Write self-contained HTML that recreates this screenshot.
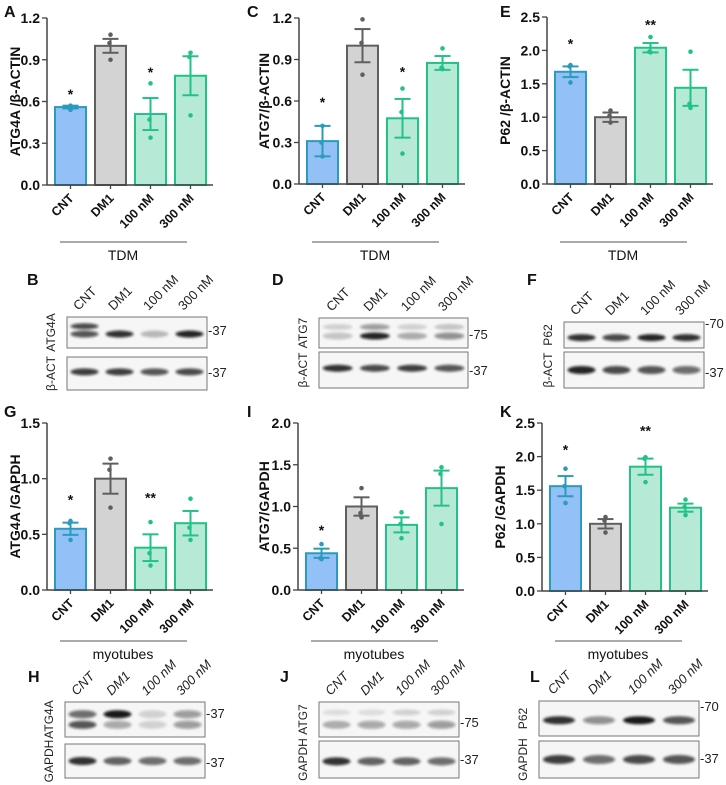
<!DOCTYPE html>
<html><head><meta charset="utf-8"><style>
html,body{margin:0;padding:0;background:#fff;}
svg{display:block;font-family:"Liberation Sans",Arial,sans-serif;}
</style></head><body>
<svg id="fig" width="726" height="785" viewBox="0 0 726 785" xmlns="http://www.w3.org/2000/svg">
<defs><filter id="bl" x="-20%" y="-100%" width="140%" height="300%"><feGaussianBlur stdDeviation="1.3"/></filter></defs>
</svg>
<script>
const categories = ["CNT","DM1","100 nM","300 nM"];
const meansA = [0.56,1.0,0.51,0.785], semA=[0.01,0.05,0.115,0.14], ptsA=[[0.57,0.56,0.54],[1.08,1.02,0.9],[0.73,0.47,0.34],[0.95,0.92,0.50]];
const meansC = [0.31,1.0,0.475,0.875], semC=[0.11,0.12,0.14,0.05], ptsC=[[0.42,0.3,0.2],[1.19,1.02,0.79],[0.69,0.52,0.22],[0.98,0.84,0.83]];
const meansE = [1.68,1.0,2.04,1.44], semE=[0.08,0.07,0.07,0.27], ptsE=[[1.78,1.76,1.52],[1.1,1.02,0.92],[2.2,1.98,1.97],[1.98,1.2,1.14]];
const meansG = [0.55,1.0,0.38,0.6], semG=[0.055,0.135,0.12,0.11], ptsG=[[0.62,0.6,0.45],[1.18,1.08,0.74],[0.61,0.33,0.22],[0.82,0.56,0.45]];
const meansI = [0.44,1.0,0.78,1.22], semI=[0.055,0.11,0.09,0.21], ptsI=[[0.55,0.38,0.37],[1.22,0.92,0.87],[0.93,0.79,0.62],[1.47,1.39,0.79]];
const meansK = [1.56,1.0,1.85,1.24], semK=[0.15,0.07,0.12,0.06], ptsK=[[1.82,1.56,1.31],[1.1,1.05,0.87],[1.99,1.97,1.62],[1.36,1.25,1.13]];
const starsA=["*","","*",""], starsC=["*","","*",""], starsE=["*","","**",""], starsG=["*","","**",""], starsI=["*","","",""], starsK=["*","","**",""];
const starYA=[0.66,0,0.82,0], starYC=[0.6,0,0.82,0], starYE=[2.12,0,2.4,0], starYG=[0.82,0,0.84,0], starYI=[0.73,0,0,0], starYK=[2.12,0,2.4,0];
const ticks12=["0.0","0.3","0.6","0.9","1.2"], ticks15=["0.0","0.5","1.0","1.5"], ticks20=["0.0","0.5","1.0","1.5","2.0"], ticks25=["0.0","0.5","1.0","1.5","2.0","2.5"];

const NS="http://www.w3.org/2000/svg", svg=document.getElementById('fig');
function mk(tag,attrs,parent,text){const e=document.createElementNS(NS,tag);for(const k in attrs)e.setAttribute(k,attrs[k]);if(text!==undefined)e.textContent=text;(parent||svg).appendChild(e);return e;}
const fills=["#93c0f7","#d3d3d3","#b6ead6","#b6ead6"], strokes=["#2a9bbd","#5f5f5f","#22c287","#22c287"];

function chart(id,ax,top,y0,max,ticks,means,sem,pts,stars,starY,ylab,ylx,group,gy){
  const g=mk('g',{});
  
  
  const y=v=>y0-(v/max)*(y0-top);
  const bx=i=>ax+8+i*40;
  ticks.forEach(t=>{const v=parseFloat(t);
    mk('line',{x1:ax-5,x2:ax,y1:y(v),y2:y(v),stroke:'#444','stroke-width':1.3},g);
    const tx=mk('text',{x:ax-7,y:y(v)+5,'text-anchor':'end','font-size':14,'font-weight':'bold',fill:'#111'},g,t);
    
    
  });
  means.forEach((m,i)=>{
    const b=mk('rect',{x:bx(i),y:y(m),width:31,height:y0-y(m),fill:fills[i],stroke:strokes[i],'stroke-width':2},g);
    
    
    const cx=bx(i)+15.5;
    mk('line',{x1:cx,x2:cx,y1:y(m+sem[i]),y2:y(m-sem[i]),stroke:strokes[i],'stroke-width':2},g);
    mk('line',{x1:cx-8,x2:cx+8,y1:y(m+sem[i]),y2:y(m+sem[i]),stroke:strokes[i],'stroke-width':2},g);
    mk('line',{x1:cx-8,x2:cx+8,y1:y(m-sem[i]),y2:y(m-sem[i]),stroke:strokes[i],'stroke-width':2},g);
    pts[i].forEach((p,j)=>{const d=mk('circle',{cx:cx+(j===1?-1:0),cy:y(p),r:2.3,fill:strokes[i]},g);
      
      });
    if(stars[i]){const s=mk('text',{x:cx,y:y(starY[i])+6,'text-anchor':'middle','font-size':14,'font-weight':'bold',fill:'#111'},g,stars[i]);
      
      }
    mk('line',{x1:cx,x2:cx,y1:y0,y2:y0+4,stroke:'#444','stroke-width':1.3},g);
    const lb=mk('text',{x:cx+4,y:y0+14,'text-anchor':'end','font-size':12.5,'font-weight':'bold',fill:'#111',transform:`rotate(-45 ${cx+4} ${y0+14})`},g,categories[i]);
    
    
  });
  mk('line',{x1:ax,x2:ax,y1:top,y2:y0,stroke:'#444','stroke-width':1.5},g);
  mk('line',{x1:ax,x2:ax+166,y1:y0,y2:y0,stroke:'#444','stroke-width':1.5},g);
  const yl=mk('text',{x:ylx,y:(top+y0)/2,'text-anchor':'middle','font-size':14,'font-weight':'bold',fill:'#111',transform:`rotate(-90 ${ylx} ${(top+y0)/2})`},g,ylab);
  
  
  mk('line',{x1:ax+13,x2:ax+140,y1:gy,y2:gy,stroke:'#555','stroke-width':1},g);
  const gt=mk('text',{x:ax+76,y:gy+18,'text-anchor':'middle','font-size':14,fill:'#111'},g,group);
  
  
}
chart('a',47,18,185,1.2,ticks12,meansA,semA,ptsA,starsA,starYA,'ATG4A /β-ACTIN',20,'TDM',242);
chart('c',299,18,184,1.2,ticks12,meansC,semC,ptsC,starsC,starYC,'ATG7/β-ACTIN',269,'TDM',242);
chart('e',547,17,184,2.5,ticks25,meansE,semE,ptsE,starsE,starYE,'P62 /β-ACTIN',510,'TDM',242);
chart('g',47,423,590,1.5,ticks15,meansG,semG,ptsG,starsG,starYG,'ATG4A /GAPDH',20,'myotubes',641);
chart('i',298,423,590,2.0,ticks20,meansI,semI,ptsI,starsI,starYI,'ATG7/GAPDH',269,'myotubes',641);
chart('k',542,423,591,2.5,ticks25,meansK,semK,ptsK,starsK,starYK,'P62 /GAPDH',505,'myotubes',641);

[["A",4,17],["C",247,17],["E",500,17],["B",27,285],["D",272,285],["F",527,285],["G",4,417],["I",247,417],["K",500,417],["H",28,682],["J",280,682],["L",530,682]].forEach(l=>{
  const t=mk('text',{x:l[1],y:l[2],'font-size':16,'font-weight':'bold',fill:'#111'},svg,l[0]);
  
  
});

function blot(id,x,y,w,h,label,marker,my,bands,lanes,italic){
  const g=mk('g',{});
  
  
  mk('rect',{x:x,y:y,width:w,height:h,fill:'#f6f6f6',stroke:'#777','stroke-width':1},g);
  bands.forEach(b=>{b[0].forEach((a,i)=>{ if(a<=0)return;
    const cx=x+w*(0.125+0.25*i);
    mk('ellipse',{cx:cx,cy:y+h*b[1],rx:w*0.1,ry:b[2],fill:'#111','fill-opacity':a,filter:'url(#bl)'},g);});});
  const lx=x-12, ly=y+h/2;
  const t=mk('text',{x:lx,y:ly,'text-anchor':'middle','font-size':12,fill:'#222',transform:`rotate(-90 ${lx} ${ly})`},g,label);
  
  
  const m=mk('text',{x:x+w+1,y:my+5,'font-size':13,fill:'#222'},g,'-'+marker);
  
  
  if(lanes){categories.forEach((c,i)=>{const cx=x+w*(0.125+0.25*i)-6;
    const lt=mk('text',{x:cx,y:y-6,'font-size':13,fill:'#222','font-style':italic?'italic':'normal',transform:`rotate(-45 ${cx} ${y-6})`},g,c);
    
    });}
}
blot('b-atg4a',67,317,140,31,'ATG4A','37',330,[[[0.7,0.85,0.25,0.9],0.55,3.5],[[0.75,0,0,0],0.3,3]],true,false);
blot('b-actin',67,357,140,33,'β-ACT','37',372,[[[0.8,0.8,0.7,0.75],0.45,3.5]],false);
blot('d-atg7',319,318,149,30,'ATG7','75',334,[[[0.2,0.9,0.3,0.45],0.6,3.5],[[0.15,0.4,0.15,0.2],0.3,3]],true,false);
blot('d-actin',319,352,149,36,'β-ACT','37',370,[[[0.85,0.75,0.8,0.7],0.45,3.5]],false);
blot('f-p62',564,322,140,26,'P62','70',323,[[[0.85,0.75,0.9,0.85],0.6,3.5]],true,false);
blot('f-actin',564,352,140,36,'β-ACT','37',372,[[[0.9,0.75,0.7,0.6],0.5,4]],false);
blot('h-atg4a',65,702,140,35,'ATG4A','37',713,[[[0.6,0.95,0.15,0.4],0.35,4],[[0.7,0.35,0.15,0.4],0.65,4]],true,true);
blot('h-gapdh',65,744,140,34,'GAPDH','37',762,[[[0.85,0.65,0.6,0.6],0.5,4]],false);
blot('j-atg7',319,702,140,35,'ATG7','75',722,[[[0.3,0.35,0.35,0.4],0.65,4],[[0.1,0.1,0.15,0.15],0.3,3]],true,true);
blot('j-gapdh',319,741,140,37,'GAPDH','37',759,[[[0.85,0.65,0.65,0.6],0.55,4]],false);
blot('l-p62',539,701,160,35,'P62','70',706,[[[0.85,0.45,0.95,0.7],0.55,4]],true,true);
blot('l-gapdh',539,741,160,37,'GAPDH','37',758,[[[0.8,0.6,0.75,0.7],0.5,4.5]],false);
</script>
</body></html>
